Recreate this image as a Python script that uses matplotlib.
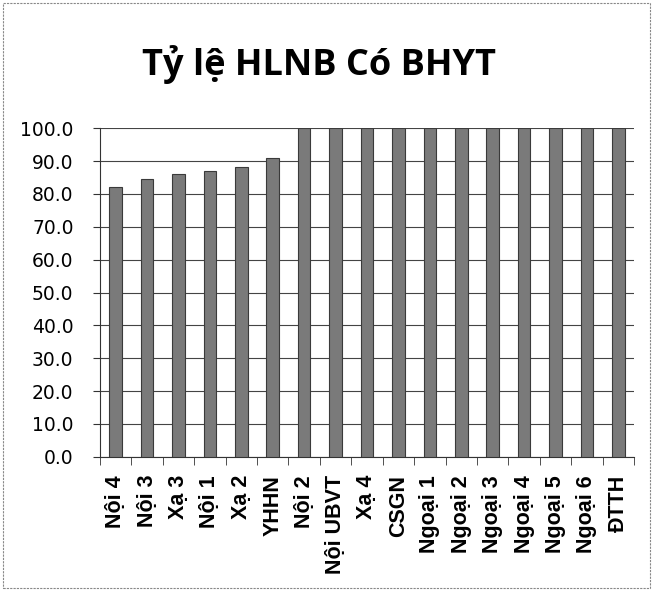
import numpy as np
import matplotlib
matplotlib.use("Agg")
import matplotlib.pyplot as plt

# data
categories = ["Nội 4", "Nội 3", "Xạ 3", "Nội 1", "Xạ 2", "YHHN", "Nội 2",
              "Nội UBVT", "Xạ 4", "CSGN", "Ngoại 1", "Ngoại 2", "Ngoại 3",
              "Ngoại 4", "Ngoại 5", "Ngoại 6", "ĐTTH"]
values = [82.0, 84.7, 86.2, 87.1, 88.2, 90.8, 100, 100, 100, 100,
          100, 100, 100, 100, 100, 100, 100]
yticks = np.arange(0, 101, 10)

fig = plt.figure(figsize=(6.53, 5.91), dpi=100)
ax = fig.add_axes([0.153, 0.227, 0.818, 0.556])

x = np.arange(len(categories))
ax.bar(x, values, width=0.4, color="#7a7a7a", edgecolor="#3a3a3a",
       linewidth=0.8, zorder=3)

ax.set_ylim(0, 100)
ax.set_xlim(-0.5, len(categories) - 0.5)
ax.set_yticks(yticks)
ax.set_yticklabels([f"{v:.1f}" for v in yticks], fontsize=13.5,
                   family="DejaVu Sans")
ax.yaxis.grid(True, color="#444444", linewidth=0.8, zorder=0)

# category labels centered, tick marks between categories (Excel style)
ax.set_xticks(x)
ax.set_xticklabels(categories, rotation=90, fontsize=15.5,
                   family="Liberation Sans", fontweight="bold")
ax.tick_params(axis="x", length=0, pad=13)
ax.set_xticks(np.arange(-0.5, len(categories), 1), minor=True)
ax.tick_params(axis="x", which="minor", length=6, color="#333333")
ax.tick_params(axis="y", length=5, color="#333333", pad=14)

for s in ["top", "right"]:
    ax.spines[s].set_visible(False)
ax.spines["left"].set_color("#333333")
ax.spines["bottom"].set_color("#333333")

fig.text(0.488, 0.89, "Tỷ lệ HLNB Có BHYT", ha="center", va="center",
         fontsize=26, fontweight="bold", family="Open Sans")

# outer frame around the chart
fig.patches.append(plt.Rectangle((0.005, 0.005), 0.99, 0.99,
                                 transform=fig.transFigure, fill=False,
                                 edgecolor="#888888", linewidth=0.8,
                                 linestyle=(0, (2, 1))))

fig.savefig("out.png", dpi=100)
